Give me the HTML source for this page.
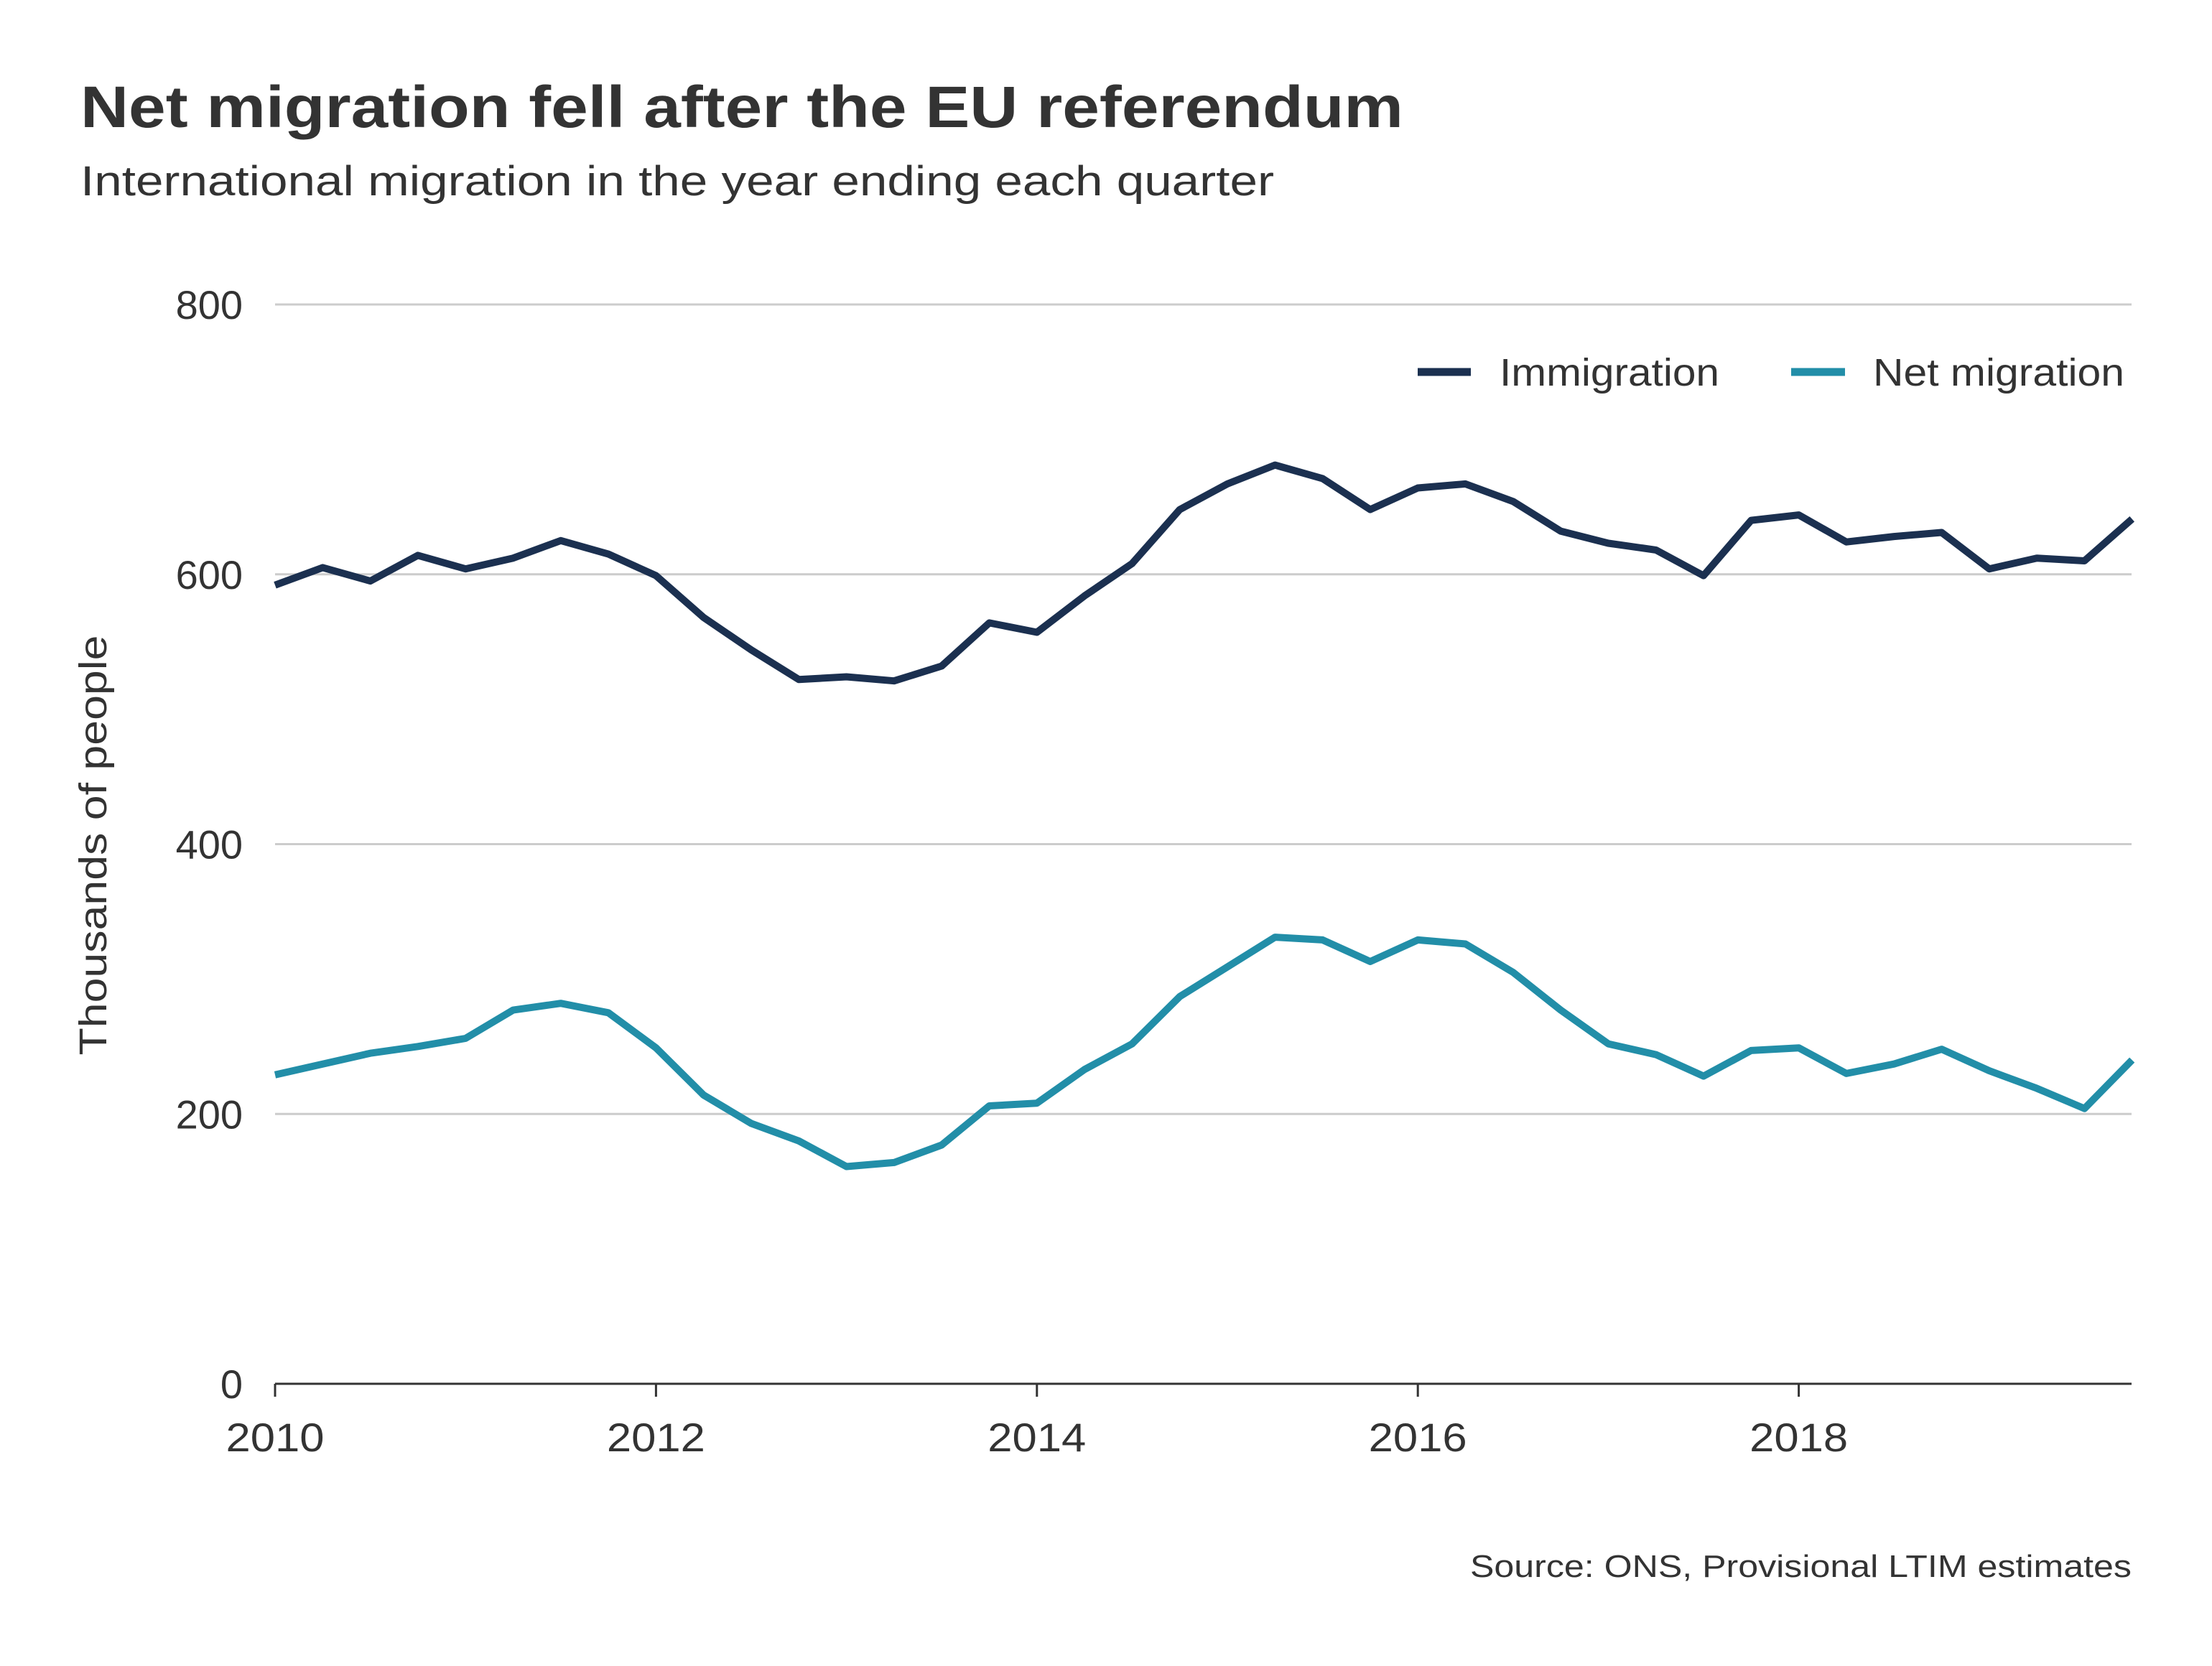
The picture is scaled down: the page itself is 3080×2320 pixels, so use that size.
<!DOCTYPE html>
<html><head><meta charset="utf-8">
<style>
html,body{margin:0;padding:0;background:#fff;}
svg{display:block;font-family:"Liberation Sans",sans-serif;}
</style></head>
<body>
<svg id="chart" width="3080" height="2320" viewBox="0 0 3080 2320" xmlns="http://www.w3.org/2000/svg">
<text x="112" y="177" font-size="82" font-weight="bold" fill="#333" textLength="1842" lengthAdjust="spacingAndGlyphs">Net migration fell after the EU referendum</text>
<text x="112" y="272" font-size="58" fill="#333" textLength="1662" lengthAdjust="spacingAndGlyphs">International migration in the year ending each quarter</text>
<g id="grid"></g>
<g id="yticks"></g>
<g id="xticks"></g>
<text transform="translate(148,1177) rotate(-90)" text-anchor="middle" font-size="54" fill="#333" textLength="585" lengthAdjust="spacingAndGlyphs">Thousands of people</text>
<g id="series"></g>
<g>
<line x1="1974" y1="518" x2="2048" y2="518" stroke="#1b3050" stroke-width="11"/>
<text x="2088" y="537" font-size="54" fill="#333" textLength="306" lengthAdjust="spacingAndGlyphs">Immigration</text>
<line x1="2494" y1="518" x2="2569" y2="518" stroke="#228ea8" stroke-width="11"/>
<text x="2608" y="537" font-size="54" fill="#333" textLength="350" lengthAdjust="spacingAndGlyphs">Net migration</text>
</g>
<text x="2968" y="2196" text-anchor="end" font-size="44" fill="#333" textLength="921" lengthAdjust="spacingAndGlyphs">Source: ONS, Provisional LTIM estimates</text>
</svg>
<script>
const immigration=[592,605,595,614,604,612,625,615,599,568,544,522,524,521,532,564,557,584,608,648,667,681,671,648,664,667,654,632,623,618,599,640,644,624,628,631,604,612,610,641];
const netMigration=[229,237,245,250,256,277,282,275,249,214,193,180,161,164,177,206,208,233,252,287,309,331,329,313,329,326,305,277,252,244,228,247,249,230,237,248,232,219,204,240];
const startYear=2010;
const yTicks=[0,200,400,600,800];
const xTicks=[2010,2012,2014,2016,2018];
const NS="http://www.w3.org/2000/svg";
const X0=383,PX_YEAR=265.2,XR=2968,Y0=1927,Y800=424;
function xs(t){return X0+(t-startYear)*PX_YEAR;}
function ys(v){return Y0-(v/800)*(Y0-Y800);}
function mk(tag,attrs,parent){const e=document.createElementNS(NS,tag);for(const k in attrs)e.setAttribute(k,attrs[k]);parent.appendChild(e);return e;}
const grid=document.getElementById('grid'),yt=document.getElementById('yticks'),xt=document.getElementById('xticks'),ser=document.getElementById('series');
yTicks.forEach(v=>{
  if(v>0){const l=mk('line',{x1:X0,x2:XR,y1:ys(v),y2:ys(v),stroke:'#cccccc','stroke-width':3},grid);
  
  }
  const t=mk('text',{x:338,y:ys(v)+20,'text-anchor':'end','font-size':56,fill:'#333'},yt);
  t.textContent=v;
  
  
});
const ax=mk('line',{x1:X0,x2:XR,y1:Y0,y2:Y0,stroke:'#333','stroke-width':3},xt);


xTicks.forEach(y=>{
  const tk=mk('line',{x1:xs(y),x2:xs(y),y1:Y0,y2:Y0+18,stroke:'#333','stroke-width':3},xt);
  
  
  const t=mk('text',{x:xs(y),y:2021,'text-anchor':'middle','font-size':56,fill:'#333',textLength:137,lengthAdjust:'spacingAndGlyphs'},xt);
  t.textContent=y;
  
  
});
function line(data,color,name){
  const d=data.map((v,i)=>(i?'L':'M')+xs(startYear+i/4).toFixed(1)+','+ys(v).toFixed(1)).join('');
  const p=mk('path',{d:d,fill:'none',stroke:color,'stroke-width':10,'stroke-linejoin':'round'},ser);
  
  
}
line(immigration,'#1b3050','immigration-line');
line(netMigration,'#228ea8','net-migration-line');
</script>
</body></html>
